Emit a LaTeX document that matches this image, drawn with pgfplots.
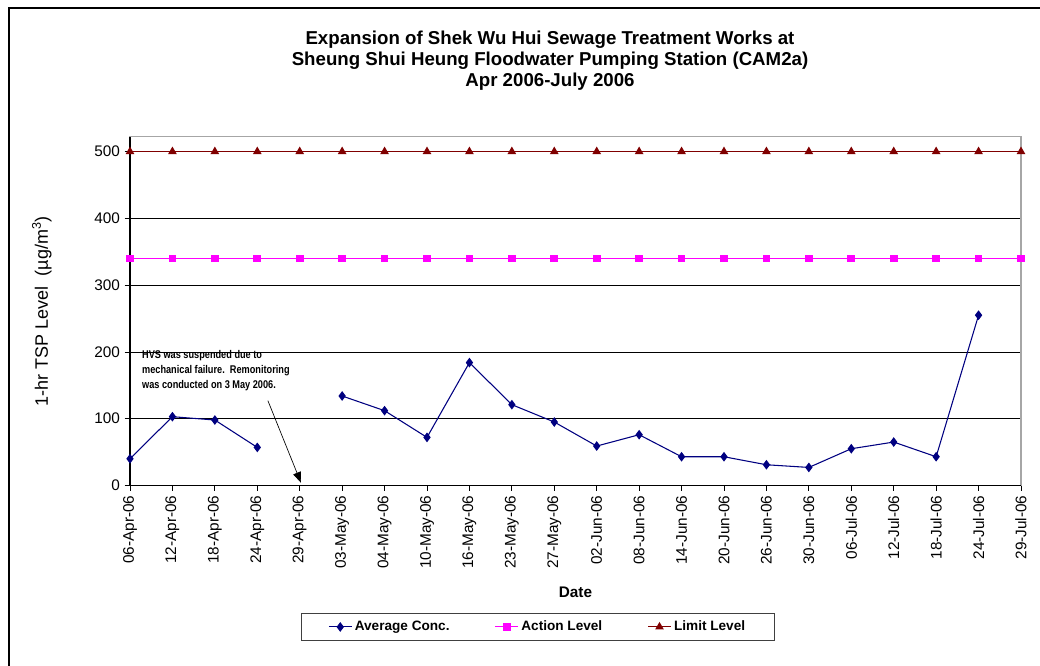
\documentclass[border=0pt]{standalone}
\usepackage{pgfplots}
\pgfplotsset{compat=1.18}
\usepackage{fontspec}
\setmainfont{Liberation Sans}
\newfontfamily\narrowfont[FakeStretch=0.82]{Liberation Sans}
\usetikzlibrary{arrows.meta}
\definecolor{avgblue}{RGB}{0,0,128}
\definecolor{actmag}{RGB}{255,0,255}
\definecolor{limred}{RGB}{128,0,0}

\pgfplotstableread{
x avg   act lim
0  40   340 500
1  103  340 500
2  98   340 500
3  57   340 500
4  nan  340 500
5  134  340 500
6  112  340 500
7  72   340 500
8  184  340 500
9  121  340 500
10 95   340 500
11 59   340 500
12 76   340 500
13 43   340 500
14 43   340 500
15 31   340 500
16 27   340 500
17 55   340 500
18 65   340 500
19 43   340 500
20 255  340 500
21 nan  340 500
}\tspdata

\begin{document}
\begin{tikzpicture}
\path[use as bounding box] (0,0) rectangle (780pt,499.5pt);
% outer chart frame (cut off right and bottom)
\draw[line width=1.2pt] (6.75pt,0) -- (6.75pt,493.5pt) -- (780pt,493.5pt);
% title
\node[font=\bfseries\fontsize{14}{15.75}\selectfont, align=center] at (412.5pt,453.75pt)
  {Expansion of Shek Wu Hui Sewage Treatment Works at\\
   Sheung Shui Heung Floodwater Pumping Station (CAM2a)\\
   Apr 2006-July 2006};
\begin{axis}[
  at={(97.5pt,135.4pt)}, anchor=south west,
  scale only axis,
  width=668.25pt, height=261.4pt,
  xmin=0, xmax=21, ymin=0, ymax=522,
  xtick={0,...,21},
  xticklabels={06-Apr-06,12-Apr-06,18-Apr-06,24-Apr-06,29-Apr-06,03-May-06,04-May-06,10-May-06,16-May-06,23-May-06,27-May-06,02-Jun-06,08-Jun-06,14-Jun-06,20-Jun-06,26-Jun-06,30-Jun-06,06-Jul-06,12-Jul-06,18-Jul-06,24-Jul-06,29-Jul-06},
  xticklabel style={rotate=90, anchor=east, font=\fontsize{11.5}{13}\selectfont},
  ytick={0,100,...,500},
  yticklabel style={font=\fontsize{11.5}{13}\selectfont},
  /pgf/number format/assume math mode=true,
  tick align=outside,
  major tick length=4pt,
  tick style={black, line width=0.6pt},
  xtick pos=bottom, ytick pos=left,
  ymajorgrids,
  major grid style={black, line width=0.5pt},
  axis line style={gray!70, line width=0.8pt},
  xlabel={\bfseries Date},
  xlabel style={font=\fontsize{11.5}{13}\selectfont, at={(rel axis cs:0.5,-0.306)}, anchor=center},
  ylabel={1-hr TSP Level\ \ (µg/m\textsuperscript{3})},
  ylabel style={font=\fontsize{13.5}{15}\selectfont, at={(rel axis cs:-0.099,0.5)}, anchor=center},
  unbounded coords=jump,
  clip=false,
  legend columns=3,
  legend style={at={(0.458,-0.406)}, anchor=center,
    draw=darkgray, line width=0.6pt,
    font=\bfseries\fontsize{10.2}{12}\selectfont,
    inner xsep=20pt, inner ysep=3.5pt,
    /tikz/every even column/.append style={column sep=32pt}},
  legend cell align=left,
]
\addplot[avgblue, line width=0.8pt, mark=diamond*, mark size=3pt] table[x=x, y=avg] {\tspdata};
\addplot[actmag, line width=0.8pt, mark=square*, mark size=2.5pt] table[x=x, y=act] {\tspdata};
\addplot[limred, line width=0.8pt, mark=triangle*, mark size=3pt] table[x=x, y=lim] {\tspdata};
\legend{Average Conc.,Action Level,Limit Level}
\draw[black, line width=0.8pt] (rel axis cs:0,1) -- (rel axis cs:0,0) -- (rel axis cs:1,0);
\node[anchor=north west, align=left, inner sep=0pt,
  font=\narrowfont\bfseries\fontsize{8.4}{10.9}\selectfont] at (axis cs:0.28,202)
  {HVS was suspended due to\\mechanical failure.\ \ Remonitoring\\was conducted on 3 May 2006.};
\draw[-{Triangle[length=8pt,width=6pt]}, line width=0.5pt] (axis cs:3.25,127) -- (axis cs:4.03,4);
\end{axis}
\end{tikzpicture}
\end{document}
